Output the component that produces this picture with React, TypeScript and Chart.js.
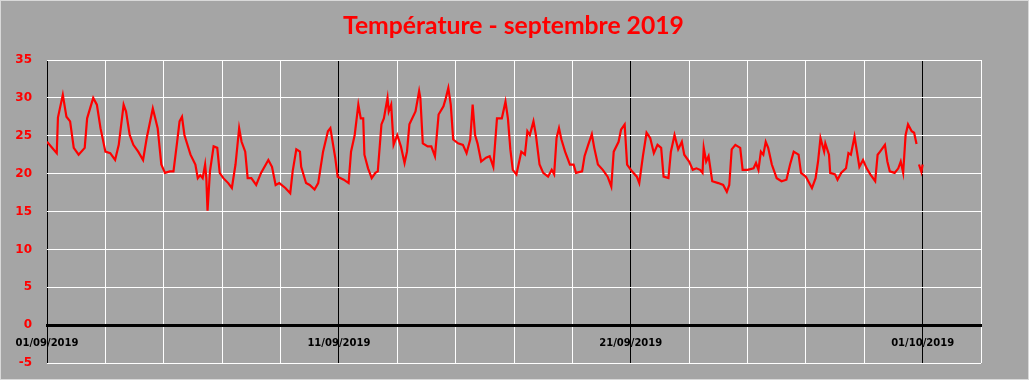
import React, { useEffect, useRef } from 'react';
import { Chart, registerables } from 'chart.js';

Chart.register(...registerables);

const TITLE = 'Température - septembre 2019';

// hours since 01/09/2019 00:00
const hours = [
  0, 8, 9, 13, 16, 19, 22, 26, 31, 33, 38, 41, 44, 48, 52, 56, 59, 63, 65, 68, 71, 75, 79, 82, 87, 89, 91, 94, 97,
  101, 104, 107, 109, 111, 113, 118, 122, 124, 126, 128, 130, 131, 132, 134, 137, 140, 142, 145, 149, 152, 155, 158,
  160, 163, 165, 168, 172, 176, 182, 185, 188, 191, 196, 200, 202, 205, 208, 209, 213, 216, 220, 223, 227, 231, 233,
  237, 239, 244, 248, 250, 253, 256, 258, 260, 261, 264, 267, 270, 272, 275, 277, 280, 281, 283, 285, 288, 291, 294,
  296, 298, 303, 306, 307, 309, 313, 316, 319, 322, 326, 328, 330, 332, 334, 338, 342, 345, 348, 350, 352, 354, 357,
  361, 364, 367, 370, 374, 377, 379, 381, 383, 386, 390, 393, 395, 397, 400, 402, 405, 408, 412, 415, 417, 419, 421,
  423, 426, 430, 433, 435, 440, 442, 445, 448, 450, 453, 457, 461, 464, 466, 470, 472, 475, 477, 481, 485, 487, 490,
  493, 496, 499, 502, 505, 507, 511, 513, 516, 519, 522, 524, 528, 531, 534, 537, 539, 540, 542, 544, 547, 552, 556,
  559, 561, 563, 566, 570, 572, 576, 581, 583, 585, 587, 589, 591, 593, 596, 600, 604, 608, 611, 614, 618, 620, 624,
  626, 629, 632, 634, 636, 639, 640, 643, 644, 648, 650, 653, 657, 659, 661, 664, 666, 668, 671, 674, 677, 681, 683,
  685, 689, 691, 693, 697, 700, 702, 704, 706, 708, 711, 713, 715, 716, 717, 719, 720,
];

const temps = [
  24.2, 22.7, 27.4, 30.4, 27.5, 26.9, 23.4, 22.5, 23.4, 27.3, 30.0, 29.1, 26.0, 22.9, 22.7, 21.8, 23.8, 29.1, 28.2,
  25.1, 23.8, 22.9, 21.8, 24.7, 28.6, 27.3, 26.0, 21.2, 20.1, 20.3, 20.3, 24.2, 26.9, 27.5, 25.1, 22.5, 21.2, 19.4,
  19.8, 19.4, 21.2, 19.4, 15.1, 20.3, 23.6, 23.4, 20.1, 19.4, 18.75, 18.1, 21.2, 26.0, 24.2, 22.9, 19.4, 19.4, 18.5,
  20.1, 21.8, 20.9, 18.5, 18.75, 18.1, 17.4, 20.3, 23.2, 22.9, 20.9, 18.75, 18.5, 17.9, 18.75, 22.9, 25.6, 26.0,
  22.1, 19.6, 19.2, 18.75, 22.9, 25.1, 29.1, 27.3, 27.3, 22.5, 20.7, 19.4, 20.1, 20.3, 26.5, 27.3, 30.0, 28.2, 29.1,
  23.8, 25.1, 23.6, 21.4, 22.9, 26.5, 28.2, 30.9, 30.0, 24.0, 23.6, 23.6, 22.3, 27.8, 28.9, 30.0, 31.3, 29.1, 24.5,
  24.0, 23.8, 22.7, 24.5, 29.1, 25.1, 24.0, 21.6, 22.1, 22.3, 20.9, 27.3, 27.3, 29.5, 27.3, 23.2, 20.5, 19.9, 22.9,
  22.5, 25.6, 25.1, 26.9, 25.1, 21.2, 20.1, 19.6, 20.5, 19.9, 24.7, 26.0, 24.5, 22.9, 21.2, 21.2, 20.1, 20.3, 22.3,
  23.8, 25.2, 23.4, 21.2, 20.5, 19.6, 18.3, 22.9, 24.2, 25.8, 26.5, 21.2, 20.3, 19.6, 18.75, 22.3, 25.4, 24.7, 22.7,
  23.8, 23.4, 19.6, 19.4, 22.9, 25.1, 23.2, 24.2, 22.5, 21.6, 20.5, 20.7, 20.5, 20.1, 23.4, 21.6, 22.3, 19.0, 18.75,
  18.5, 17.6, 18.5, 23.2, 23.8, 23.4, 20.5, 20.5, 20.7, 21.4, 20.5, 22.9, 22.5, 24.2, 23.4, 21.2, 19.4, 19.0, 19.2,
  21.2, 22.9, 22.5, 20.1, 19.6, 19.0, 18.1, 19.4, 21.6, 24.7, 22.9, 24.0, 22.5, 20.1, 19.9, 19.2, 20.1, 20.7, 22.7,
  22.5, 24.9, 22.9, 20.9, 21.8, 20.7, 19.9, 19.0, 22.5, 22.9, 23.8, 21.6, 20.3, 20.1, 20.7, 21.6, 20.1, 25.1, 26.5,
  25.6, 25.4, 23.9, null, 21.2, 20.2, 21.2,
];

const dateTickHours = [0, 240, 480, 720];
const dateTickLabels = ['01/09/2019', '11/09/2019', '21/09/2019', '01/10/2019'];

const X_MIN = 0;
const X_MAX = 768;
const X_STEP = 48;
const Y_MIN = -5;
const Y_MAX = 35;
const Y_STEP = 5;

const bgPlugin = {
  id: 'bgPlugin',
  beforeDraw(chart: any) {
    const { ctx, width, height } = chart;
    ctx.save();
    ctx.fillStyle = '#A5A5A5';
    ctx.fillRect(0, 0, width, height);
    ctx.strokeStyle = '#D9D9D9';
    ctx.lineWidth = 1;
    ctx.strokeRect(0.5, 0.5, width - 1, height - 1);
    ctx.restore();
  },
  afterDraw(chart: any) {
    const { ctx, width } = chart;
    ctx.save();
    ctx.fillStyle = '#FF0000';
    ctx.font = 'bold 24.7px Lato';
    ctx.textAlign = 'center';
    ctx.textBaseline = 'alphabetic';
    ctx.fillText(TITLE, width / 2 - 1, 34);
    ctx.restore();
  },
};

export default function App() {
  const ref = useRef<HTMLCanvasElement | null>(null);

  useEffect(() => {
    if (!ref.current) return;
    const points = hours.map((h, i) => ({ x: h, y: temps[i] }));
    const chart = new Chart(ref.current, {
      type: 'line',
      data: {
        datasets: [
          {
            data: points as any,
            borderColor: '#FF0000',
            borderWidth: 2.2,
            pointRadius: 0,
            tension: 0,
            spanGaps: false,
            fill: false,
          },
        ],
      },
      options: {
        animation: false,
        responsive: false,
        maintainAspectRatio: false,
        devicePixelRatio: 1,
        layout: { padding: { left: 0, right: 48, top: 60, bottom: 17 } },
        plugins: {
          legend: { display: false },
          tooltip: { enabled: false },
          title: { display: false },
        },
        scales: {
          x: {
            type: 'linear',
            min: X_MIN,
            max: X_MAX,
            position: { y: 0 } as any,
            grid: {
              color: (c: any) => (dateTickHours.includes(c.tick?.value) ? '#000000' : '#FFFFFF'),
              lineWidth: 1,
              drawTicks: false,
            },
            border: { display: true, color: '#000000', width: 3 },
            ticks: {
              stepSize: X_STEP,
              autoSkip: false,
              maxRotation: 0,
              color: '#000000',
              padding: 12,
              font: { family: 'DejaVu Sans', weight: 'bold', size: 10 },
              callback: (v: any) => {
                const i = dateTickHours.indexOf(Number(v));
                return i >= 0 ? dateTickLabels[i] : '';
              },
            },
          },
          y: {
            min: Y_MIN,
            max: Y_MAX,
            grid: {
              color: '#FFFFFF',
              lineWidth: 1,
              drawTicks: true,
              tickLength: 15,
              tickColor: 'rgba(0,0,0,0)',
            },
            border: { display: false },
            ticks: {
              stepSize: Y_STEP,
              color: '#FF0000',
              padding: 0,
              font: { family: 'DejaVu Sans', weight: 'bold', size: 12 },
            },
            afterFit: (scale: any) => {
              scale.width = 47;
            },
          },
        },
      },
      plugins: [bgPlugin],
    });
    return () => chart.destroy();
  }, []);

  return (
    <div style={{ position: 'absolute', left: 0, top: 0, width: 1029, height: 380 }}>
      <canvas ref={ref} width={1029} height={380} />
    </div>
  );
}
